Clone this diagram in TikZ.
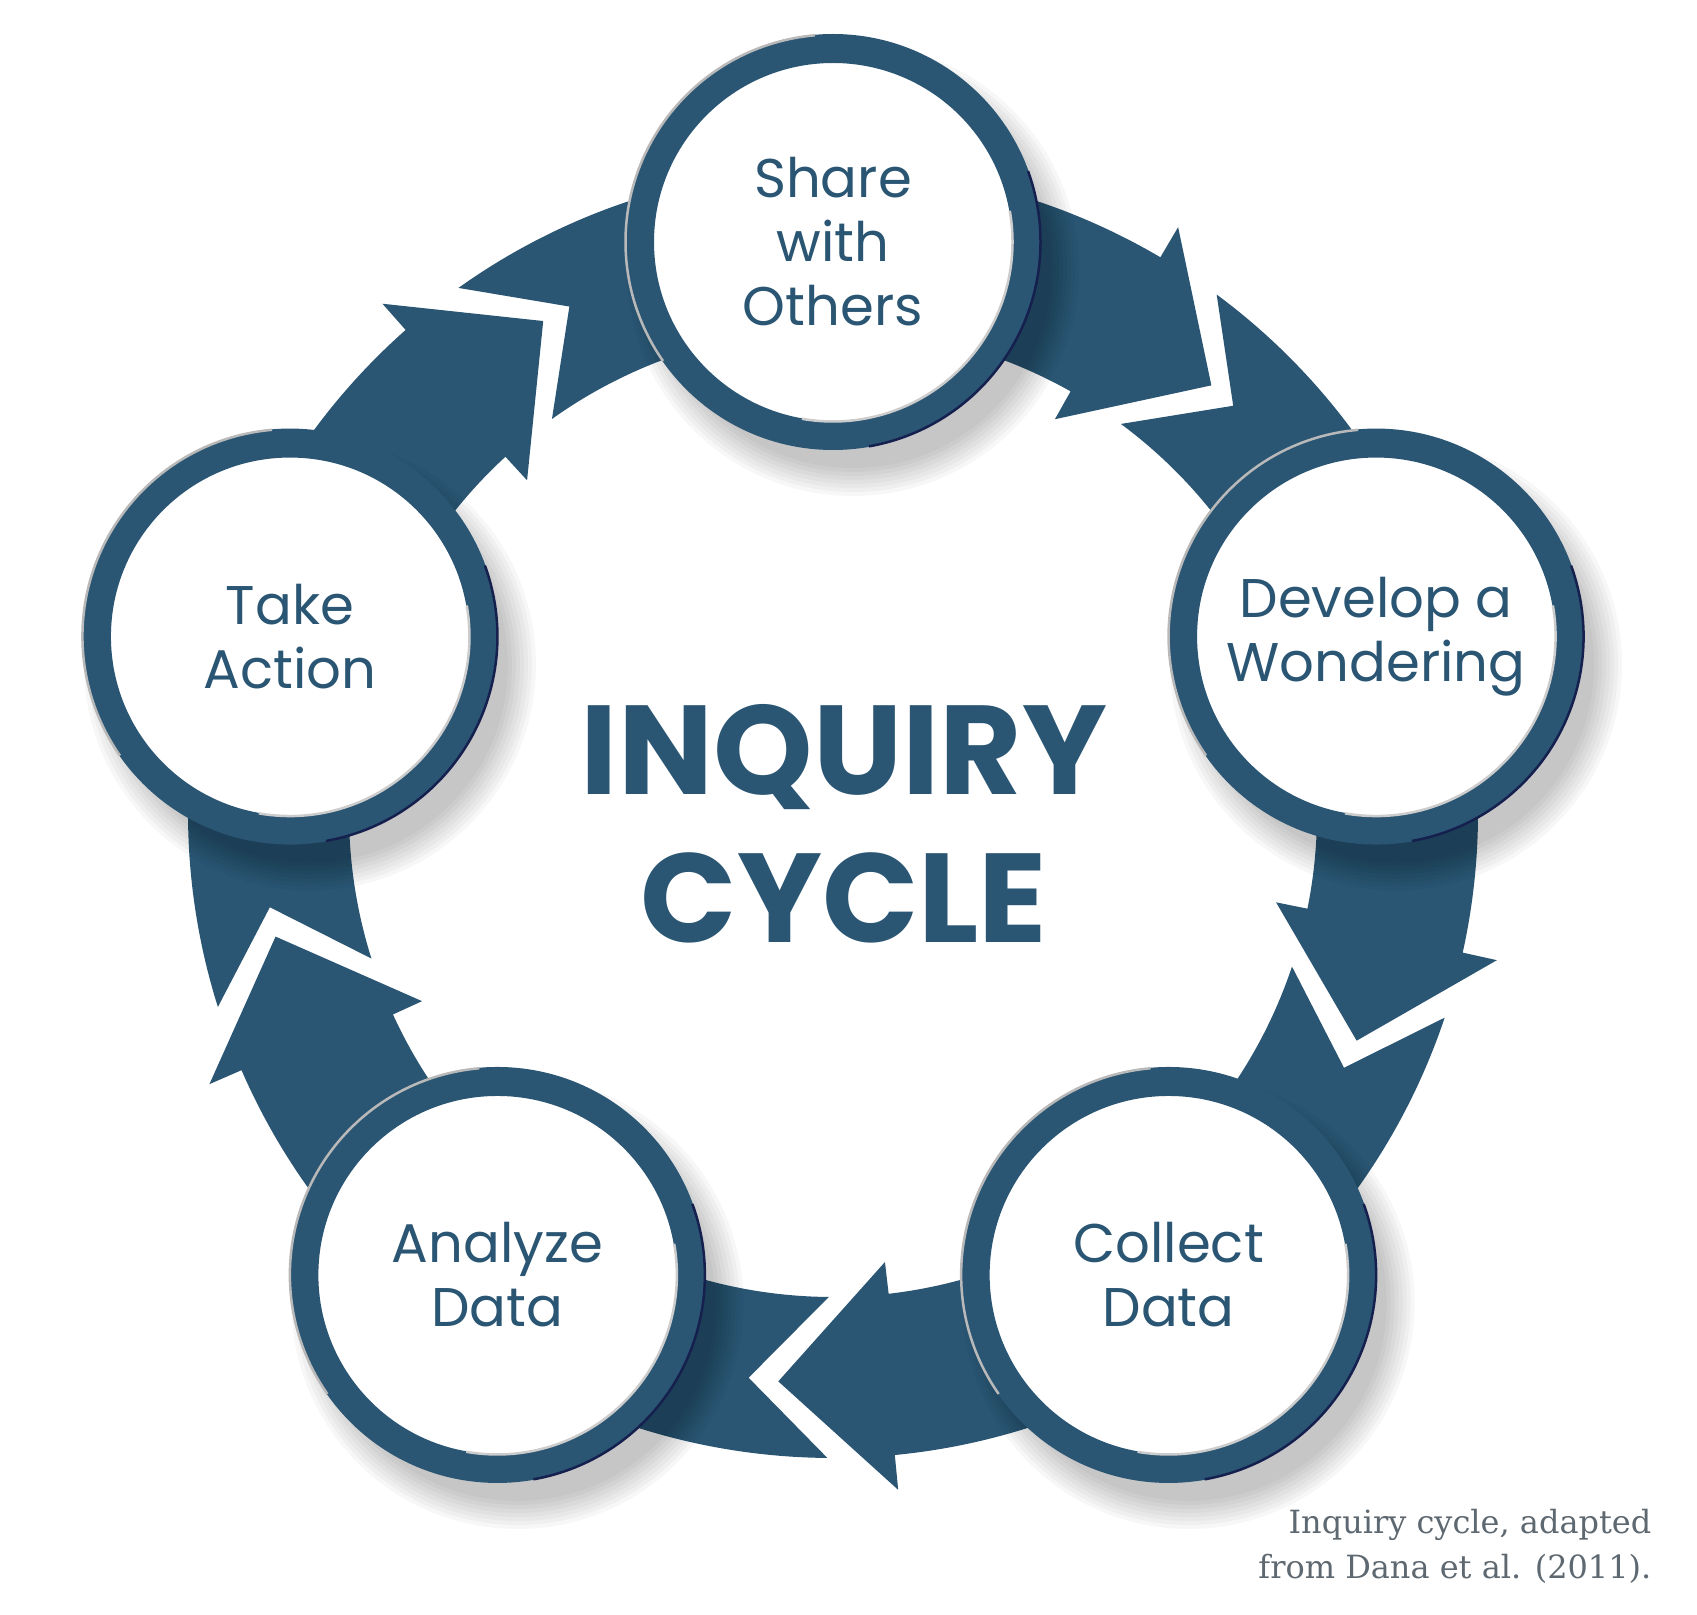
\documentclass[tikz,border=0pt]{standalone}
\usepackage{fontspec}
\newfontfamily\labelfont{Poppins}
\newfontfamily\notefont{DejaVu Serif}
\usetikzlibrary{backgrounds}
\definecolor{cycleblue}{HTML}{2A5674}
\definecolor{ringnavy}{HTML}{16204E}
\definecolor{notegray}{HTML}{5E6870}

\begin{document}
\begin{tikzpicture}[x=0.1mm,y=0.1mm,
    main node/.style={circle,draw=cycleblue,line width=2.9mm,fill=white,
      minimum size=38.7mm,inner sep=0pt,align=center,text=cycleblue,
      font=\labelfont\fontsize{15.5}{18.2}\selectfont},
    cycle arrow/.style={fill=cycleblue},
    ring edge/.style={line width=0.25mm}]

  \useasboundingbox (0,0) rectangle (1697,1614);
  \coordinate (c) at (833,801);

  % Define vertices
  \node[main node] (S) at ([shift={(90:571)}]c) {Share\\with\\Others};
  \node[main node] (D) at ([shift={(18:571)}]c) {Develop a\\Wondering};
  \node[main node] (C) at ([shift={(-54:571)}]c) {Collect\\Data};
  \node[main node] (A) at ([shift={(-126:571)}]c) {Analyze\\Data};
  \node[main node] (T) at ([shift={(162:571)}]c) {Take\\Action};

  \node[text=cycleblue,align=center,
    font=\labelfont\bfseries\fontsize{36}{42}\selectfont] (title) at (844,790) {INQUIRY\\CYCLE};

  \node[anchor=north east,align=right,inner sep=0pt,text=notegray,
    font=\notefont\fontsize{9.1}{12.8}\selectfont] (note) at (1652,106)
    {Inquiry cycle, adapted\\from Dana et al. (2011).};

  % Ring edges
  \foreach \n in {S,D,C,A,T} {
    \draw[ring edge,gray!55] ([shift={(95:20.75mm)}]\n.center) arc[start angle=95,end angle=215,radius=20.75mm];
    \draw[ring edge,ringnavy] ([shift={(-80:20.75mm)}]\n.center) arc[start angle=-80,end angle=20,radius=20.75mm];
    \draw[ring edge,black!20] ([shift={(-100:17.95mm)}]\n.center) arc[start angle=-100,end angle=10,radius=17.95mm];
  }

  % Draw arrows
  \begin{pgfonlayer}{background}
    \foreach \m in {126,54,-18,-90,-162}
      \fill[cycle arrow,shift={(c)}] (\m-0.5:645) -- (\m-8.5:571) -- (\m-0.5:484)
        arc[start angle=\m-0.5,end angle=\m-65.4,radius=48.4mm]
        -- (\m-65.4:452) -- (\m-77.5:571) -- (\m-66.5:680) -- (\m-66.5:645)
        arc[start angle=\m-66.5,end angle=\m-0.5,radius=64.5mm] -- cycle;
    \foreach \a in {90,18,-54,-126,162}
      \foreach \k in {0,...,7}
        \fill[black,opacity=0.03] ([shift={(\a:571)}]c) ++(20,-28) circle[radius=22.6mm-\k*0.4mm];
  \end{pgfonlayer}

\end{tikzpicture}
\end{document}
